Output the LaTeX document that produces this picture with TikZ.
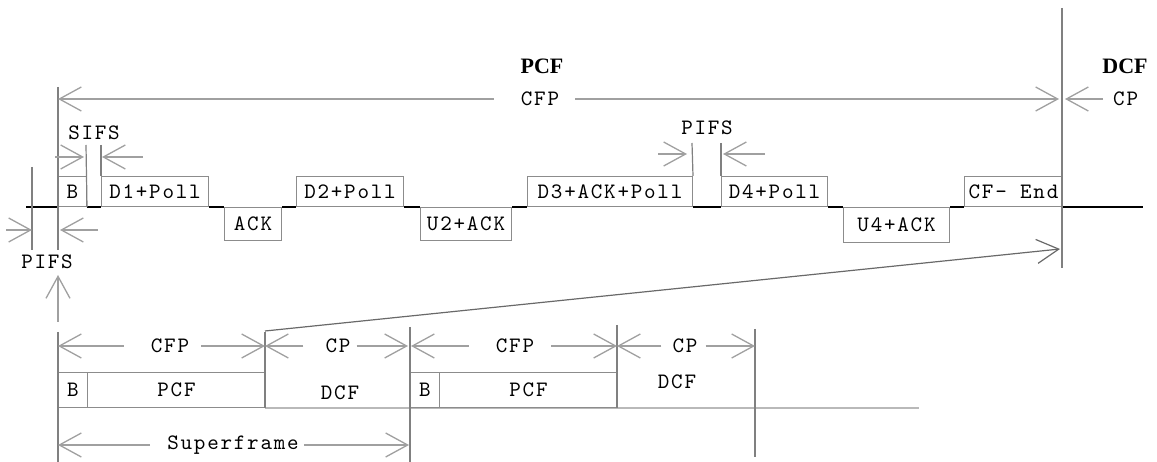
\documentclass[tikz,border=0pt]{standalone}
\usepackage{fontspec}
\setmonofont[LetterSpace=8]{lmmono10-regular.otf}
\newfontfamily\titlefont{Liberation Serif}
\usetikzlibrary{arrows.meta}
\definecolor{linegray}{RGB}{128,128,128}
\definecolor{arrgray}{RGB}{160,160,160}
\definecolor{boxgray}{RGB}{140,140,140}
\definecolor{diaggray}{RGB}{105,105,105}
\definecolor{baseline}{RGB}{185,185,185}
\begin{document}
\begin{tikzpicture}[x=1pt,y=-1pt,
  lbl/.style={font=\ttfamily\fontsize{22}{22}\selectfont, inner sep=0pt, text=black},
  ttl/.style={font=\titlefont\bfseries\fontsize{22}{22}\selectfont, inner sep=0pt},
  upbox/.style={draw=boxgray, line width=1pt, fill=white, inner sep=0pt, lbl, minimum height=30pt, anchor=south west},
  dnbox/.style={upbox, minimum height=33pt, anchor=north west},
  lowbox/.style={draw=boxgray, line width=1pt, inner sep=0pt, lbl, minimum height=35pt, anchor=south west},
  arr/.style={draw=arrgray, line width=1.3pt, -{Straight Barb[length=22pt,width=24pt,line width=1.3pt]}},
  vline/.style={draw=linegray, line width=1.2pt},
  tline/.style={draw=black, line width=2.6pt}]
\useasboundingbox (0,0) rectangle (1157,462);

% ---------- main timeline boxes ----------
\node[upbox, minimum width=28pt] (B) at (58,207) {B};
\node[upbox, minimum width=107pt] (D1) at (101,207) {D1+Poll};
\node[dnbox, minimum width=57pt] (ACK) at (224,207) {ACK};
\node[upbox, minimum width=107pt] (D2) at (296,207) {D2+Poll};
\node[dnbox, minimum width=91pt] (U2) at (420,207) {U2+ACK};
\node[upbox, minimum width=165pt] (D3) at (527,207) {D3+ACK+Poll};
\node[upbox, minimum width=106pt] (D4) at (721,207) {D4+Poll};
\node[dnbox, minimum width=106pt, minimum height=35pt] (U4) at (843,207) {U4+ACK};
\node[upbox, minimum width=98pt] (CFE) at (964,207) {CF- End};

\coordinate (tl0) at (26,207);
\coordinate (tl1) at (1143,207);
\draw[tline] (tl0) -- (B.south west)
  (B.south east) -- (D1.south west)
  (D1.south east) -- (ACK.north west)
  (ACK.north east) -- (D2.south west)
  (D2.south east) -- (U2.north west)
  (U2.north east) -- (D3.south west)
  (D3.south east) -- (D4.south west)
  (D4.south east) -- (U4.north west)
  (U4.north east) -- (CFE.south west)
  (CFE.south east) -- (tl1);

% ---------- vertical guide lines ----------
\coordinate (vA0) at (58,87);   \coordinate (vA1) at (58,250);
\coordinate (vE0) at (1062,8);  \coordinate (vE1) at (1062,268);
\coordinate (vS1) at (86,145);  \coordinate (vS2) at (101,145);
\coordinate (vP1) at (692,143); \coordinate (vP2) at (721,143);
\coordinate (vL0) at (32,167);  \coordinate (vL1) at (32,250);
\draw[vline] (vA0) -- (vA1);
\draw[vline] (vE0) -- (vE1);
\draw[vline] (vS1) -- (B.south east);
\draw[vline] (vS2) -- (D1.north west);
\draw[vline] (vP1) -- (D3.north east);
\draw[vline] (vP2) -- (D4.north west);
\draw[vline] (vL0) -- (vL1);

% ---------- titles ----------
\node[ttl] (tPCF) at (542,66) {PCF};
\node[ttl] (tDCF) at (1125,66) {DCF};

% ---------- CFP / CP top ----------
\node[lbl] (cfpT) at (540,99) {CFP};
\coordinate (cfpTL) at (58,99);
\coordinate (cfpTR) at (1059,99);
\draw[arr] ([xshift=-27pt]cfpT.west) -- (cfpTL);
\draw[arr] ([xshift=16pt]cfpT.east) -- (cfpTR);
\node[lbl, anchor=west] (cpT) at (1113,99) {CP};
\coordinate (cpTL) at (1065,99);
\draw[arr] ([xshift=-10pt]cpT.west) -- (cpTL);

% ---------- SIFS ----------
\node[lbl] (sifs) at (94,133) {SIFS};
\coordinate (sA0) at (55,157); \coordinate (sA1) at (84,157);
\coordinate (sB0) at (143,157); \coordinate (sB1) at (102,157);
\draw[arr] (sA0) -- (sA1);
\draw[arr] (sB0) -- (sB1);

% ---------- PIFS (right) ----------
\node[lbl] (pifsR) at (707,128) {PIFS};
\coordinate (pA0) at (658,154); \coordinate (pA1) at (687,154);
\coordinate (pB0) at (765,154); \coordinate (pB1) at (723,154);
\draw[arr] (pA0) -- (pA1);
\draw[arr] (pB0) -- (pB1);

% ---------- PIFS (left) ----------
\node[lbl] (pifsL) at (47,262) {PIFS};
\coordinate (lA0) at (6,230);  \coordinate (lA1) at (32,230);
\coordinate (lB0) at (98,230); \coordinate (lB1) at (60,230);
\draw[arr] (lA0) -- (lA1);
\draw[arr] (lB0) -- (lB1);
\coordinate (up0) at (58,322); \coordinate (up1) at (58,275);
\draw[arr] (up0) -- (up1);

% ---------- lower superframe diagram ----------
\coordinate (w1a) at (58,332);  \coordinate (w1b) at (58,462);
\coordinate (w2a) at (265,332); \coordinate (w2b) at (265,408);
\coordinate (w3a) at (410,327); \coordinate (w3b) at (410,462);
\coordinate (w4a) at (617,325); \coordinate (w4b) at (617,408);
\coordinate (w5a) at (755,329); \coordinate (w5b) at (755,457);
\coordinate (base1) at (919,408);

\draw[draw=baseline, line width=2pt] (w2b) -- (base1);

\node[lowbox, minimum width=29pt] (lB1) at (58,408) {B};
\node[lowbox, minimum width=178pt] (lP1) at (87,408) {PCF};
\node[lowbox, minimum width=29pt] (lB2) at (410,408) {B};
\node[lowbox, minimum width=178pt] (lP2) at (439,408) {PCF};

\draw[vline] (w1a) -- (w1b);
\draw[vline] (w2a) -- (w2b);
\draw[vline] (w3a) -- (w3b);
\draw[vline] (w4a) -- (w4b);
\draw[vline] (w5a) -- (w5b);

\node[lbl] (dcf1) at (340,393) {DCF};
\node[lbl] (dcf2) at (677,382) {DCF};

% dimension arrows
\coordinate (d1) at (58,346);  \coordinate (d2) at (265,346);
\coordinate (d3) at (408,346); \coordinate (d4) at (411,346);
\coordinate (d5) at (617,346); \coordinate (d6) at (755,346);
\node[lbl] (cfp1) at (170,346) {CFP};
\draw[arr] ([xshift=-27pt]cfp1.west) -- (d1);
\draw[arr] ([xshift=12pt]cfp1.east) -- (d2);
\node[lbl] (cp1) at (338,346) {CP};
\draw[arr] ([xshift=-22pt]cp1.west) -- (d2);
\draw[arr] ([xshift=6pt]cp1.east) -- (d3);
\node[lbl] (cfp2) at (515,346) {CFP};
\draw[arr] ([xshift=-27pt]cfp2.west) -- (d4);
\draw[arr] ([xshift=17pt]cfp2.east) -- (d5);
\node[lbl] (cp2) at (685,346) {CP};
\draw[arr] ([xshift=-11pt]cp2.west) -- (d5);
\draw[arr] ([xshift=8pt]cp2.east) -- (d6);

\coordinate (s1) at (58,445); \coordinate (s2) at (409,445);
\node[lbl] (sup) at (233,445) {Superframe};
\draw[arr] ([xshift=-17pt]sup.west) -- (s1);
\draw[arr] ([xshift=5pt]sup.east) -- (s2);

% expansion line
\coordinate (dg0) at (265,331);
\coordinate (dg1) at (1060,249);
\draw[draw=diaggray, line width=1.2pt, -{Straight Barb[length=22pt,width=24pt,line width=1.2pt]}] (dg0) -- (dg1);
\end{tikzpicture}
\end{document}
